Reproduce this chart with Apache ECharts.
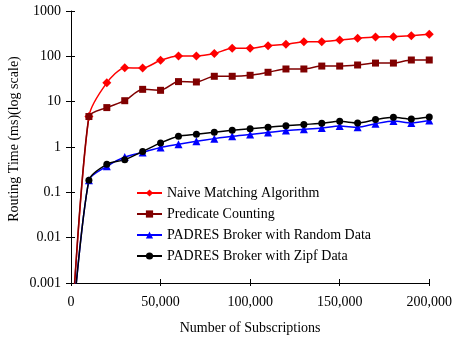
<!DOCTYPE html>
<html>
<head>
<meta charset="utf-8">
<script src="https://cdn.jsdelivr.net/npm/echarts@6/dist/echarts.min.js"></script>
<style>
  html, body { margin: 0; padding: 0; background: #fff; }
  #chart { width: 455px; height: 342px; }
</style>
</head>
<body>
<div id="chart"></div>
<script>
// number of subscriptions (x)
var subs = [0, 10000, 20000, 30000, 40000, 50000, 60000, 70000, 80000, 90000, 100000,
            110000, 120000, 130000, 140000, 150000, 160000, 170000, 180000, 190000, 200000];

// routing time in ms (first value sits below the axis)
var naive     = [0.00005, 4.7, 26, 56, 55, 82, 102, 102, 115, 150, 150,
                 172, 184, 211, 211, 229, 250, 267, 272, 286, 306];
var predicate = [0.00005, 4.7, 7.4, 10.5, 18.7, 17.8, 27.7, 27.2, 36.3, 36.3, 38.2,
                 44.5, 52.6, 52.6, 61, 61, 64.4, 71, 71, 83, 83];
var padresRandom = [0.00005, 0.184, 0.375, 0.6, 0.76, 0.98, 1.15, 1.34, 1.53, 1.72, 1.88,
                    2.08, 2.3, 2.45, 2.62, 2.9, 2.72, 3.27, 3.74, 3.39, 3.82];
var padresZipf   = [0.00005, 0.184, 0.415, 0.526, 0.8, 1.23, 1.72, 1.9, 2.11, 2.33, 2.54,
                    2.72, 2.96, 3.12, 3.33, 3.69, 3.39, 4.02, 4.52, 4.15, 4.58];

var names = ['Naive Matching Algorithm', 'Predicate Counting',
             'PADRES Broker with Random Data', 'PADRES Broker with Zipf Data'];

var font = 'Liberation Serif';

function pairs(ys) {
    return subs.map(function (x, i) {
        // the start point is only there to pull the line down, no marker
        if (i === 0) return { value: [x, ys[i]], symbol: 'none' };
        return [x, ys[i]];
    });
}

function makeSeries(name, ys, color, symbol, size) {
    return {
        name: name,
        type: 'line',
        data: pairs(ys),
        smooth: 0.25,
        symbol: symbol,
        symbolSize: size,
        clip: true,
        itemStyle: { color: color },
        lineStyle: { color: color, width: 1.5 },
        emphasis: { disabled: true }
    };
}

var chart = echarts.init(document.getElementById('chart'));
var option = {
    animation: false,
    grid: { left: 71, right: 24, top: 11, bottom: 59, containLabel: false },
    legend: {
        orient: 'vertical',
        left: 131,
        top: 181,
        itemWidth: 25,
        itemHeight: 9,
        itemGap: 7,
        textStyle: { fontFamily: font, fontSize: 14, color: '#000' },
        data: names
    },
    xAxis: [{
        type: 'value',
        min: 0, max: 200000, interval: 50000,
        splitLine: { show: false },
        axisLine: { lineStyle: { color: '#000', width: 1 } },
        axisTick: { length: 3, lineStyle: { color: '#000' } },
        axisLabel: { color: '#000', fontFamily: font, fontSize: 14, margin: 12 },
        name: 'Number of Subscriptions',
        nameLocation: 'middle',
        nameGap: 38,
        nameTextStyle: { color: '#000', fontFamily: font, fontSize: 14 }
    }, {
        type: 'value',
        min: 0, max: 200000, interval: 50000,
        position: 'bottom',
        splitLine: { show: false },
        axisLine: { show: false },
        axisTick: { inside: true, length: 4, lineStyle: { color: '#000' } },
        axisLabel: { show: false }
    }],
    yAxis: [{
        type: 'log',
        logBase: 10,
        min: 0.001, max: 1000,
        splitLine: { show: false },
        minorTick: { show: false },
        axisLine: { show: true, lineStyle: { color: '#000', width: 1 } },
        axisTick: { show: true, length: 5, lineStyle: { color: '#000' } },
        axisLabel: {
            color: '#000', fontFamily: font, fontSize: 14, margin: 10,
            formatter: function (v) { return String(+v.toPrecision(3)); }
        }
    }, {
        type: 'log',
        logBase: 10,
        min: 0.001, max: 1000,
        position: 'left',
        splitLine: { show: false },
        axisLine: { show: false },
        axisTick: { show: true, inside: true, length: 4, lineStyle: { color: '#000' } },
        axisLabel: { show: false }
    }],
    graphic: [{
        type: 'text',
        x: 14,
        y: 139,
        rotation: Math.PI / 2,
        style: {
            text: 'Routing Time (ms)(log scale)',
            fontFamily: font,
            fontSize: 14,
            fill: '#000',
            align: 'center',
            verticalAlign: 'middle'
        }
    }],
    series: [
        makeSeries(names[0], naive, '#ff0000', 'diamond', 9),
        makeSeries(names[1], predicate, '#800000', 'rect', 7),
        makeSeries(names[2], padresRandom, '#0000ff', 'triangle', 8),
        makeSeries(names[3], padresZipf, '#000000', 'circle', 7)
    ]
};
chart.setOption(option);
window.addEventListener('resize', function () {
    chart.resize();
});
</script>
</body>
</html>
